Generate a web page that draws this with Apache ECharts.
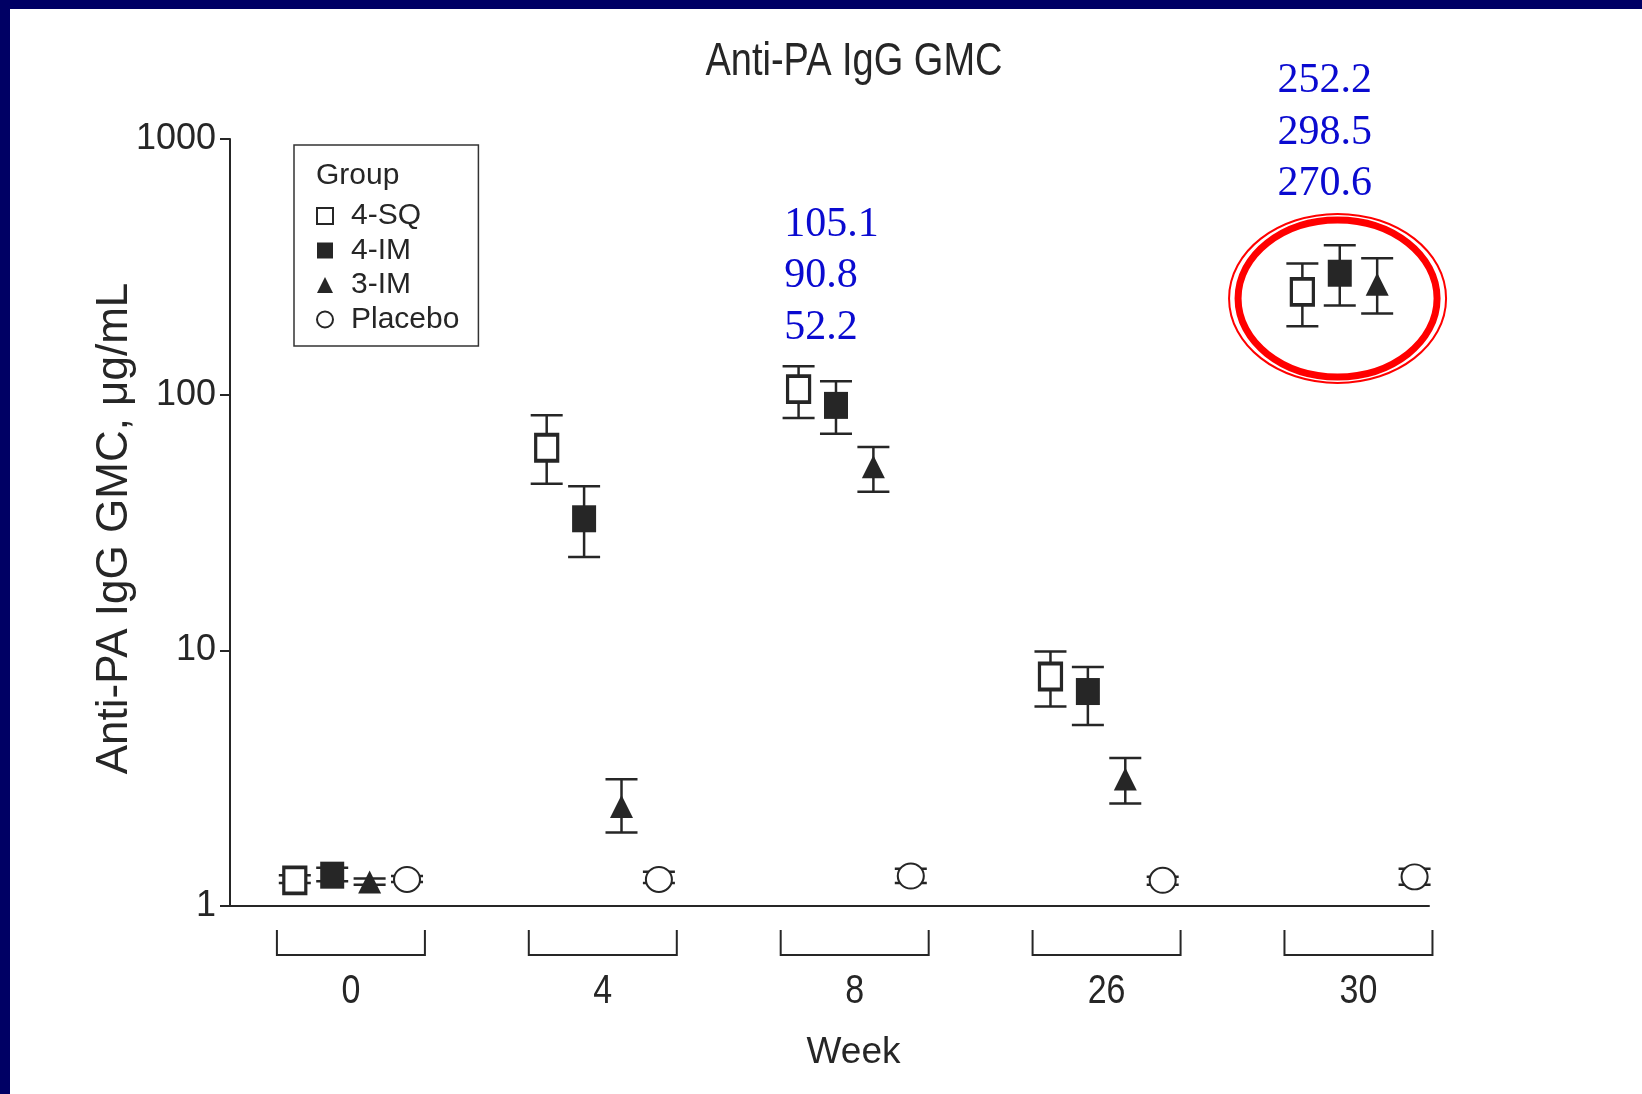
<!DOCTYPE html>
<html>
<head>
<meta charset="utf-8">
<title>Anti-PA IgG GMC</title>
<script src="https://cdn.jsdelivr.net/npm/echarts@6/dist/echarts.min.js"></script>
<style>
  html, body { margin: 0; padding: 0; background: #fff; }
  #main { width: 1642px; height: 1094px; }
</style>
</head>
<body>
<div id="main"></div>
<script>
// x categories (weeks) and groups
const weeks = ["0", "4", "8", "26", "30"];
const groups = ["4-SQ", "4-IM", "3-IM", "Placebo"];

// GMC per week (µg/mL)
const gmc4SQ = [1.26, 62.0, 105.1, 7.9, 252.2];
const gmc4IM = [1.32, 32.7, 90.8, 6.9, 298.5];
const gmc3IM = [1.24, 2.45, 52.2, 3.14, 270.6];
const gmcPlacebo = [1.27, 1.27, 1.31, 1.26, 1.3];

// 95% CI low / high
const lo4SQ = [1.23, 44.8, 81.1, 6.03, 185];
const hi4SQ = [1.32, 83.0, 129.2, 9.89, 325.7];
const lo4IM = [1.25, 23.2, 70.4, 5.11, 223];
const hi4IM = [1.41, 43.8, 112.8, 8.6, 384];
const lo3IM = [1.21, 1.94, 41.7, 2.52, 207.5];
const hi3IM = [1.28, 3.13, 62.4, 3.79, 341.6];
const loPlacebo = [1.24, 1.23, 1.23, 1.21, 1.21];
const hiPlacebo = [1.31, 1.36, 1.4, 1.3, 1.4];

// weeks whose values are written in blue above the points
const annotatedWeeks = [2, 4];

const SANS = "'Liberation Sans', Arial, Helvetica, sans-serif";
const INK = "#262626";

const gmc = [gmc4SQ, gmc4IM, gmc3IM, gmcPlacebo];
const lows = [lo4SQ, lo4IM, lo3IM, loPlacebo];
const highs = [hi4SQ, hi4IM, hi3IM, hiPlacebo];
const step = 0.1485; // spacing of the groups inside one week
const offset = (g) => (g - 1.5) * step;

const symbols = [
  { symbol: "rect", size: [22, 26], style: { color: "#fff", borderColor: INK, borderWidth: 3.5, opacity: 1 } },
  { symbol: "rect", size: [24, 27], style: { color: INK, opacity: 1 } },
  { symbol: "triangle", size: [23, 23], style: { color: INK, opacity: 1 } },
  { symbol: "circle", size: [26, 25], style: { color: "#fff", borderColor: INK, borderWidth: 2, opacity: 1 } },
];

function renderErrorBar(params, api) {
  const x = api.value(0);
  const lo = api.coord([x, api.value(1)]);
  const hi = api.coord([x, api.value(2)]);
  const half = 16;
  const style = { stroke: INK, lineWidth: 2.5 };
  return {
    type: "group",
    children: [
      { type: "line", shape: { x1: lo[0], y1: lo[1], x2: hi[0], y2: hi[1] }, style },
      { type: "line", shape: { x1: lo[0] - half, y1: lo[1], x2: lo[0] + half, y2: lo[1] }, style },
      { type: "line", shape: { x1: hi[0] - half, y1: hi[1], x2: hi[0] + half, y2: hi[1] }, style },
    ],
  };
}

// bracket + week label under each group of points
function renderBracket(params, api) {
  const p = api.coord([api.value(0), 1]);
  const half = 74;
  return {
    type: "group",
    children: [
      {
        type: "polyline",
        shape: { points: [[p[0] - half, p[1] + 24], [p[0] - half, p[1] + 49], [p[0] + half, p[1] + 49], [p[0] + half, p[1] + 24]] },
        style: { stroke: INK, lineWidth: 2, fill: null },
      },
      {
        type: "text",
        x: p[0],
        y: p[1] + 86,
        scaleY: 1.2,
        style: { text: weeks[params.dataIndex], fontSize: 34, fontFamily: SANS, fill: INK, align: "center", verticalAlign: "middle" },
      },
    ],
  };
}

// blue value labels (4-SQ, 4-IM, 3-IM)
const annotPlace = { 2: { dx: -0.28, y: 183 }, 4: { dx: -0.321, y: 665 } };
function renderAnnot(params, api) {
  const w = api.value(0);
  const place = annotPlace[w];
  const p = api.coord([w + place.dx, place.y]);
  const lines = [gmc4SQ[w], gmc4IM[w], gmc3IM[w]].map((v) => v.toFixed(1));
  return {
    type: "group",
    children: lines.map((t, k) => ({
      type: "text",
      x: p[0],
      y: p[1] - (lines.length - 1 - k) * 51.5,
      style: { text: t, fontSize: 42, fontFamily: "'Liberation Serif', 'Times New Roman', serif", fill: "#0a0ad0", align: "left", verticalAlign: "middle" },
    })),
  };
}

// red double ring round the week 30 values
function renderRing(params, api) {
  const c = api.coord([api.value(0) - 0.083, 238]);
  return {
    type: "group",
    children: [
      { type: "ellipse", shape: { cx: c[0], cy: c[1], rx: 108.5, ry: 84.5 }, style: { fill: null, stroke: "#ff0000", lineWidth: 2 } },
      { type: "ellipse", shape: { cx: c[0], cy: c[1], rx: 99.5, ry: 78.5 }, style: { fill: null, stroke: "#ff0000", lineWidth: 7 } },
    ],
  };
}

const series = [];
groups.forEach((name, g) => {
  series.push({
    type: "custom",
    name: name + " CI",
    renderItem: renderErrorBar,
    encode: { x: 0, y: [1, 2] },
    data: weeks.map((w, i) => [i + offset(g), lows[g][i], highs[g][i]]),
    z: 2,
    silent: true,
  });
});
groups.forEach((name, g) => {
  series.push({
    type: "scatter",
    name,
    symbol: symbols[g].symbol,
    symbolSize: symbols[g].size,
    itemStyle: symbols[g].style,
    data: weeks.map((w, i) => [i + offset(g), gmc[g][i]]),
    z: 3,
  });
});
series.push({
  type: "custom",
  name: "brackets",
  renderItem: renderBracket,
  clip: false,
  encode: { x: 0 },
  data: weeks.map((w, i) => [i]),
  silent: true,
});
series.push({
  type: "custom",
  name: "annotations",
  renderItem: renderAnnot,
  clip: false,
  data: annotatedWeeks.map((i) => [i]),
  z: 4,
  silent: true,
});
series.push({
  type: "custom",
  name: "ring",
  renderItem: renderRing,
  clip: false,
  data: [[4]],
  z: 4,
  silent: true,
});

const chart = echarts.init(document.getElementById("main"));
chart.setOption({
  backgroundColor: "#fff",
  animation: false,
  legend: {
    orient: "vertical",
    left: 294,
    top: 145,
    data: groups,
    itemWidth: 16,
    itemHeight: 16,
    itemGap: 4.5,
    padding: [56, 19, 11.5, 22],
    borderColor: "#333",
    borderWidth: 1.5,
    selectedMode: false,
    textStyle: { fontSize: 30, lineHeight: 30, fontFamily: SANS, color: INK, padding: [0, 0, 0, 13] },
  },
  graphic: [
    { type: "rect", left: 0, top: 0, shape: { width: 1642, height: 9 }, style: { fill: "#000064" } },
    { type: "rect", left: 0, top: 0, shape: { width: 10, height: 1094 }, style: { fill: "#000064" } },
    { type: "text", x: 854, y: 62, scaleY: 1.2, style: { text: "Anti-PA IgG GMC", fontSize: 38, fontFamily: SANS, fill: INK, align: "center", verticalAlign: "middle" } },
    { type: "text", x: 316, y: 176, style: { text: "Group", fontSize: 30, fontFamily: SANS, fill: INK, verticalAlign: "middle" } },
  ],
  grid: { left: 230, right: 213, top: 139, bottom: 188 },
  xAxis: {
    type: "value",
    min: -0.48,
    max: 4.28,
    name: "Week",
    nameLocation: "middle",
    nameGap: 128,
    nameTextStyle: { fontSize: 37, fontFamily: SANS, color: INK, padding: [0, 0, 0, 48] },
    axisLine: { show: true, onZero: false, lineStyle: { color: INK, width: 2 } },
    axisTick: { show: false },
    axisLabel: { show: false },
    splitLine: { show: false },
  },
  yAxis: {
    type: "log",
    logBase: 10,
    min: 1,
    max: 1000,
    name: "Anti-PA IgG GMC, μg/mL",
    nameLocation: "middle",
    nameRotate: 90,
    nameGap: 93,
    nameMoveOverlap: false,
    nameTextStyle: { fontSize: 44, fontFamily: SANS, color: INK, padding: [0, 12, 0, 0] },
    axisLine: { show: true, onZero: false, lineStyle: { color: INK, width: 2 } },
    axisTick: { show: true, inside: false, length: 10, lineStyle: { color: INK, width: 2 } },
    minorTick: { show: false },
    axisLabel: { fontSize: 36, fontFamily: SANS, color: INK, margin: 14, formatter: (v) => String(Math.round(v)) },
    splitLine: { show: false },
  },
  series,
});
</script>
</body>
</html>
